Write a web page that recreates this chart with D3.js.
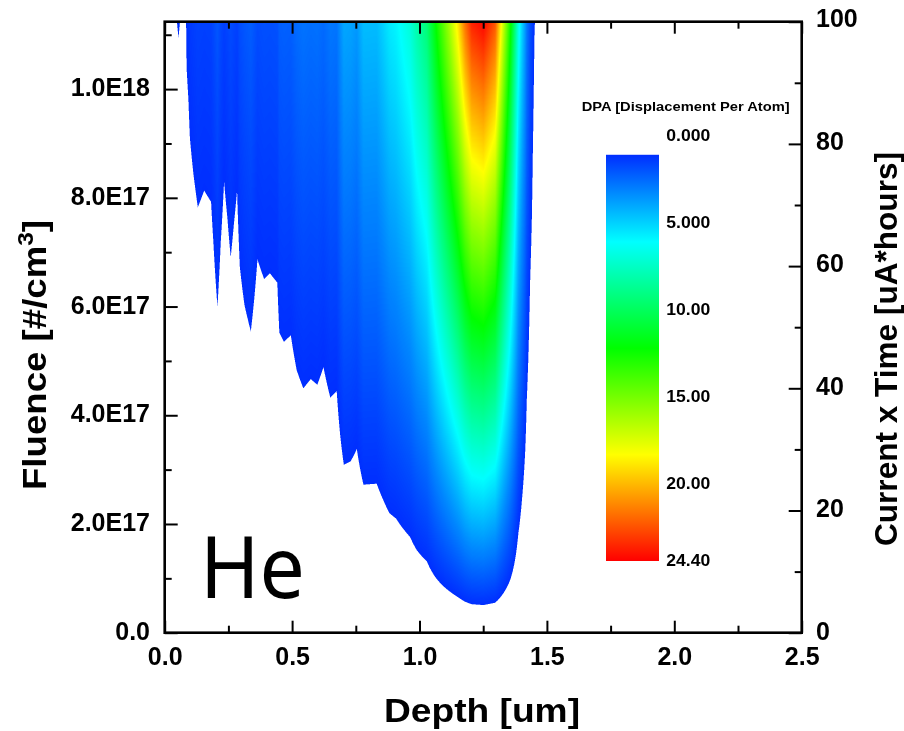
<!DOCTYPE html>
<html>
<head>
<meta charset="utf-8">
<script src="https://cdn.jsdelivr.net/npm/d3@7"></script>
<style>
  body { margin: 0; background: #fff; }
  #wrap { position: relative; width: 904px; height: 731px; overflow: hidden; filter: blur(0.4px); }
  canvas, svg { position: absolute; left: 0; top: 0; }
  text { font-family: "Liberation Sans", Arial, sans-serif; font-weight: bold; fill: #000; }
</style>
</head>
<body>
<div id="wrap">
  <canvas id="heat" width="904" height="731"></canvas>
  <svg id="chart" width="904" height="731"></svg>
</div>
<script>
// depth [um] and DPA reached at the top of the fluence range
const depths = [0, 0.03, 0.046, 0.054, 0.062, 0.075, 0.084, 0.086, 0.093, 0.099, 0.112, 0.13, 0.155, 0.182, 0.191, 0.207,
  0.22, 0.233, 0.246, 0.259, 0.272, 0.284, 0.295, 0.313, 0.338, 0.351, 0.364, 0.39, 0.413, 0.442, 0.45, 0.468, 0.495,
  0.518, 0.544, 0.573, 0.599, 0.623, 0.65, 0.675, 0.688, 0.703, 0.73, 0.754, 0.78, 0.832, 0.858, 0.882, 0.908, 0.963,
  0.989, 1.029, 1.061, 1.12, 1.151, 1.179, 1.205, 1.251, 1.297, 1.329, 1.356, 1.375, 1.388, 1.402, 1.415, 1.421, 1.428,
  1.434, 1.441, 1.445, 1.447, 1.451, 1.453, 1.46, 2.5];
const topDPA = [0.6, 0.9, 1.09, 1.13, 1.09, 1.05, 1.1, 1.19, 1.26, 1.36, 1.46, 1.58, 1.52, 1.56, 1.72, 2.06,
  1.72, 1.49, 1.62, 1.79, 1.64, 1.52, 1.84, 2.05, 2.23, 2.02, 1.8, 1.9, 1.87, 1.92, 2.24, 2.31, 2.26,
  2.56, 2.75, 2.65, 2.71, 2.53, 2.86, 2.78, 3.37, 4.0, 3.92, 3.66, 4.54, 4.51, 5.07, 5.62, 5.89, 7.02,
  8.13, 9.44, 12.0, 16.4, 18.9, 21.7, 23.6, 24.3, 22.4, 17.05, 12.7, 9.22, 6.75, 5.07, 3.68, 2.89, 2.38,
  1.92, 1.62, 1.39, 1.3, 1.13, 1.1, 0.9, 0];

const maxFluence = 11.24e17;
const minDPA = 1.1; // nothing is painted below this

const depthTicks = [0, 0.5, 1, 1.5, 2, 2.5];
const depthMinor = [0.25, 0.75, 1.25, 1.75, 2.25];
const fluenceTicks = [0, 2e17, 4e17, 6e17, 8e17, 1e18];
const fluenceLabels = ['0.0', '2.0E17', '4.0E17', '6.0E17', '8.0E17', '1.0E18'];
const fluenceMinor = [1e17, 3e17, 5e17, 7e17, 9e17, 11e17];
const currentTicks = [0, 20, 40, 60, 80, 100];
const currentMinor = [10, 30, 50, 70, 90];

const colorStops = [0, 6.1, 12.2, 18.3, 24.4];
const colorRange = ['#0000ff', '#00ffff', '#00ff00', '#ffff00', '#ff0000'];
const legendValues = [0, 5, 10, 15, 20, 24.4];
const legendLabels = ['0.000', '5.000', '10.00', '15.00', '20.00', '24.40'];

const plotLeft = 164.7, plotRight = 801.7, plotTop = 21.7, plotBottom = 632.7;

const x = d3.scaleLinear().domain([0, 2.5]).range([plotLeft, plotRight]);
const y = d3.scaleLinear().domain([0, maxFluence]).range([plotBottom, plotTop]);
const yCurrent = d3.scaleLinear().domain([0, 100]).range([plotBottom, plotTop]);
const yCurrentText = d3.scaleLinear().domain([0, 100]).range([639.5, 27]);
const profile = d3.scaleLinear().domain(depths).range(topDPA).clamp(true);
const color = d3.scaleLinear().domain(colorStops).range(colorRange).clamp(true);
const legendY = d3.scaleLinear().domain([0, 24.4]).range([135.6, 561]);

// heat map, 3x3 samples a pixel so the jagged edge stays soft
const ctx = document.getElementById('heat').getContext('2d');
const x0 = Math.floor(plotLeft), y0 = Math.floor(plotTop);
const w = Math.ceil(plotRight) - x0, h = Math.ceil(plotBottom) - y0;
const img = ctx.createImageData(w, h);
const lut = d3.range(513).map(i => d3.rgb(color(i / 512 * 24.4)));
const sub = [1 / 6, 1 / 2, 5 / 6];
const columns = d3.range(w).map(i => sub.map(s => profile(x.invert(x0 + i + s))));
const rows = d3.range(h).map(j => sub.map(s => y.invert(y0 + j + s) / maxFluence));

for (let j = 0; j < h; j++) {
    for (let i = 0; i < w; i++) {
        let hits = 0, sum = 0;
        for (const p of columns[i]) {
            for (const f of rows[j]) {
                const z = p * Math.min(Math.max(f, 0), 1);
                if (z >= minDPA) { hits++; sum += z; }
            }
        }
        if (!hits) continue;
        const c = lut[Math.min(512, Math.round(sum / hits / 24.4 * 512))];
        const k = (j * w + i) * 4;
        img.data[k] = c.r;
        img.data[k + 1] = c.g;
        img.data[k + 2] = c.b;
        img.data[k + 3] = hits / 9 * 255;
    }
}
ctx.putImageData(img, x0, y0);

const svg = d3.select('#chart');

const styleAxis = (g, width) => {
    g.selectAll('path').remove();
    g.selectAll('line').attr('stroke', '#000').attr('stroke-width', width);
};

// ticks, all pointing in
svg.append('g').attr('transform', `translate(0,${plotBottom})`)
    .call(d3.axisBottom(x).tickValues(depthTicks).tickSize(-12).tickFormat(d3.format('.1f')))
    .call(styleAxis, 2)
    .call(g => g.selectAll('text').attr('y', 32.3).attr('dy', 0).style('font-size', '25px'));
svg.append('g').attr('transform', `translate(0,${plotBottom})`)
    .call(d3.axisBottom(x).tickValues(depthMinor).tickSize(-7).tickFormat(''))
    .call(styleAxis, 2);
svg.append('g').attr('transform', `translate(0,${plotTop})`)
    .call(d3.axisTop(x).tickValues(depthTicks).tickSize(-12).tickFormat(''))
    .call(styleAxis, 2);
svg.append('g').attr('transform', `translate(0,${plotTop})`)
    .call(d3.axisTop(x).tickValues(depthMinor).tickSize(-7).tickFormat(''))
    .call(styleAxis, 2);

svg.append('g').attr('transform', `translate(${plotLeft},0)`)
    .call(d3.axisLeft(y).tickValues(fluenceTicks).tickSize(-13).tickFormat((d, i) => fluenceLabels[i]))
    .call(styleAxis, 2)
    .call(g => g.selectAll('text').attr('x', -14.7).attr('y', 6.7).attr('dy', 0).style('font-size', '25px'));
svg.append('g').attr('transform', `translate(${plotLeft},0)`)
    .call(d3.axisLeft(y).tickValues(fluenceMinor).tickSize(-7).tickFormat(''))
    .call(styleAxis, 2);

svg.append('g').attr('transform', `translate(${plotRight},0)`)
    .call(d3.axisRight(yCurrent).tickValues(currentTicks).tickSize(-13).tickFormat(''))
    .call(styleAxis, 2);
svg.append('g').attr('transform', `translate(${plotRight},0)`)
    .call(d3.axisRight(yCurrent).tickValues(currentMinor).tickSize(-7).tickFormat(''))
    .call(styleAxis, 2);
svg.append('g').selectAll('text').data(currentTicks).join('text')
    .attr('x', 816).attr('y', d => yCurrentText(d))
    .style('font-size', '25px').text(d => d);

// frame
svg.append('rect').attr('x', plotLeft).attr('y', plotTop)
    .attr('width', plotRight - plotLeft).attr('height', plotBottom - plotTop)
    .attr('fill', 'none').attr('stroke', '#000').attr('stroke-width', 2.6);

// axis titles
svg.append('text').attr('x', 482).attr('y', 721.7).attr('text-anchor', 'middle')
    .attr('textLength', 196).attr('lengthAdjust', 'spacingAndGlyphs')
    .style('font-size', '33px').text('Depth [um]');

const fluenceTitle = svg.append('text')
    .attr('transform', 'translate(45.7,490) rotate(-90) scale(1.11,1)')
    .style('font-size', '33px');
fluenceTitle.append('tspan').text('Fluence [#/cm');
fluenceTitle.append('tspan').attr('dy', -13).style('font-size', '22px').text('3');
fluenceTitle.append('tspan').attr('dy', 13).text(']');

svg.append('text').attr('transform', 'translate(896.7,546) rotate(-90)')
    .attr('textLength', 394).attr('lengthAdjust', 'spacingAndGlyphs')
    .style('font-size', '31px').text('Current x Time [uA*hours]');

// He
svg.append('text').attr('x', 200).attr('y', 597.7)
    .attr('textLength', 105).attr('lengthAdjust', 'spacingAndGlyphs')
    .style('font-family', '"Noto Sans"').style('font-weight', 'normal').style('font-size', '85px').text('He');

// colour legend
const grad = svg.append('defs').append('linearGradient').attr('id', 'legendGrad')
    .attr('x1', 0).attr('x2', 0).attr('y1', 0).attr('y2', 1);
const legendStart = minDPA, legendEnd = 24.4;
grad.selectAll('stop').data([legendStart, ...colorStops.slice(1)]).join('stop')
    .attr('offset', d => (d - legendStart) / (legendEnd - legendStart))
    .attr('stop-color', d => color(d));
svg.append('rect').attr('x', 606).attr('width', 53)
    .attr('y', legendY(legendStart)).attr('height', legendY(legendEnd) - legendY(legendStart))
    .attr('fill', 'url(#legendGrad)');
svg.append('g').selectAll('text').data(legendValues).join('text')
    .attr('x', 666.3).attr('y', d => legendY(d) + 5.2)
    .attr('textLength', 44).attr('lengthAdjust', 'spacingAndGlyphs')
    .style('font-size', '16px').text((d, i) => legendLabels[i]);
svg.append('text').attr('x', 581.7).attr('y', 110.7)
    .attr('textLength', 208).attr('lengthAdjust', 'spacingAndGlyphs')
    .style('font-size', '13px').text('DPA [Displacement Per Atom]');
</script>
</body>
</html>
